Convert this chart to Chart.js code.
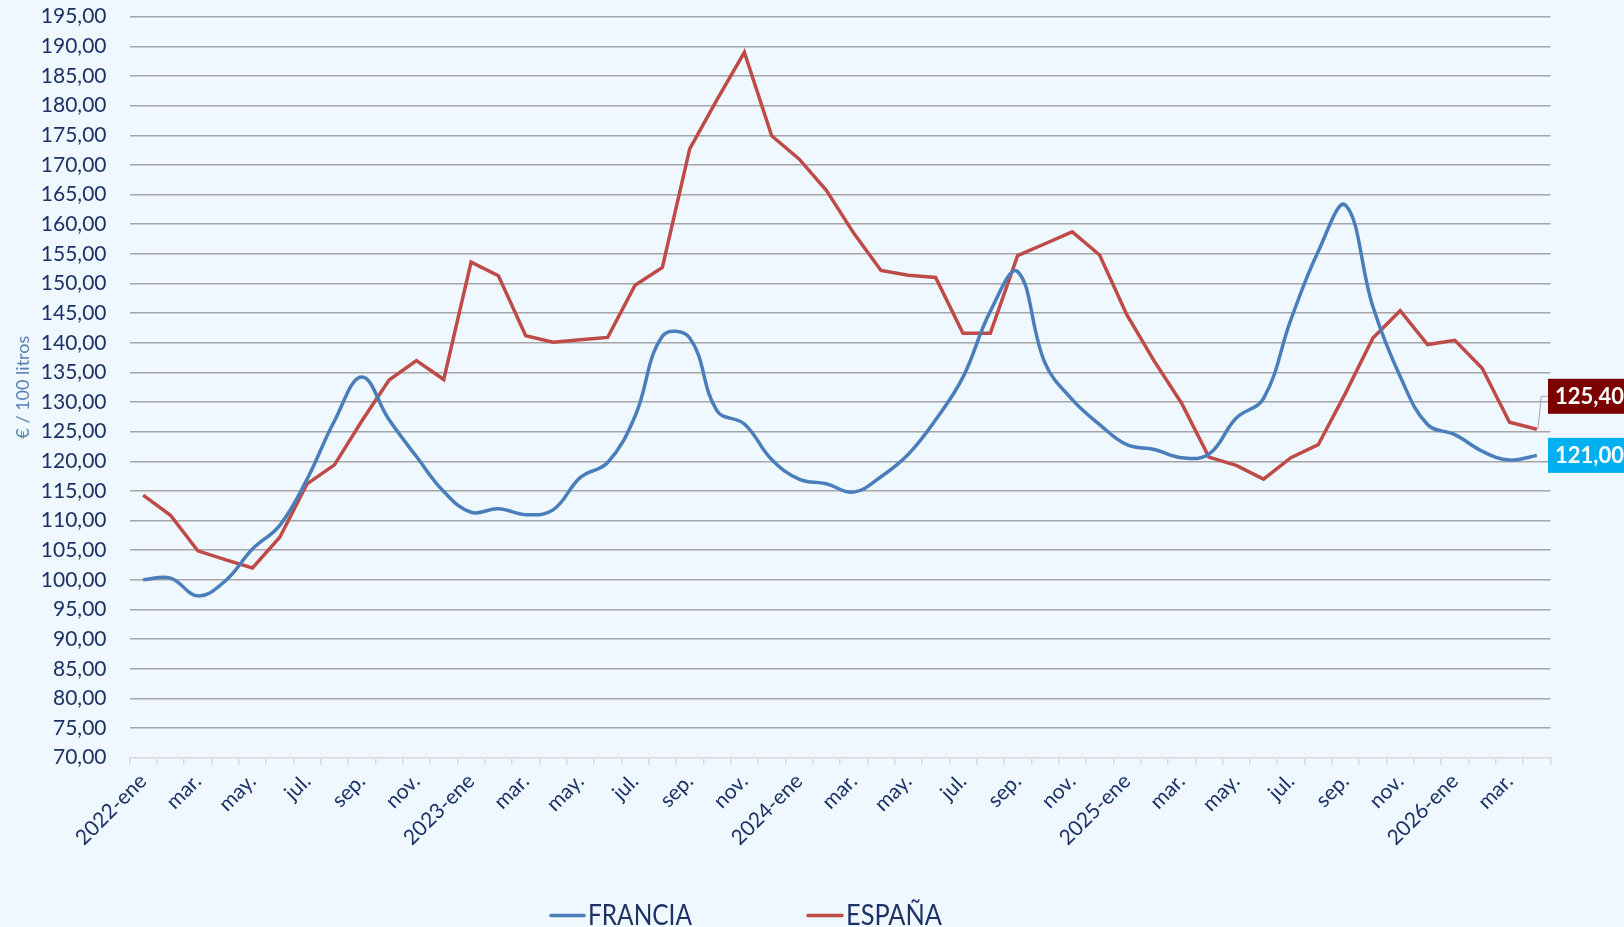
<!DOCTYPE html>
<html>
<head>
<meta charset="utf-8">
<script src="https://cdn.jsdelivr.net/npm/chart.js@4.4.1/dist/chart.umd.min.js"></script>
<style>
  html, body { margin: 0; padding: 0; background: #EFF7FF; }
  #wrap { width: 1624px; height: 927px; }
</style>
</head>
<body>
<div id="wrap"><canvas id="c" width="1624" height="927"></canvas></div>
<script>
// ---- Data ----
const months = [
  "2022-ene","feb.","mar.","abr.","may.","jun.","jul.","ago.","sep.","oct.","nov.","dic.",
  "2023-ene","feb.","mar.","abr.","may.","jun.","jul.","ago.","sep.","oct.","nov.","dic.",
  "2024-ene","feb.","mar.","abr.","may.","jun.","jul.","ago.","sep.","oct.","nov.","dic.",
  "2025-ene","feb.","mar.","abr.","may.","jun.","jul.","ago.","sep.","oct.","nov.","dic.",
  "2026-ene","feb.","mar.","abr."
];
const francia = [100.0, 100.3, 97.3, 99.8, 105.2, 109.2, 117.0, 126.8, 134.2, 127.0, 120.8, 114.9,
  111.4, 112.0, 111.0, 111.8, 117.3, 119.8, 127.6, 141.1, 140.8, 128.5, 126.3, 120.3,
  117.0, 116.2, 114.8, 117.4, 121.2, 127.0, 134.2, 145.3, 152.0, 136.6, 130.4, 126.2,
  122.8, 122.0, 120.6, 121.2, 127.3, 130.6, 143.9, 155.4, 163.2, 146.1, 134.3, 126.2,
  124.5, 121.7, 120.2, 121.0];
const espana = [114.3, 110.9, 104.9, 103.4, 102.0, 107.2, 116.2, 119.4, 126.8, 133.7, 137.0, 133.8,
  153.6, 151.3, 141.2, 140.1, 140.5, 140.9, 149.7, 152.7, 172.7, 181.0, 189.0, 174.9,
  171.0, 165.7, 158.5, 152.2, 151.4, 151.0, 141.6, 141.6, 154.7, 156.7, 158.7, 154.8,
  144.7, 136.9, 129.8, 120.7, 119.3, 117.0, 120.6, 122.8, 131.5, 140.8, 145.4, 139.7,
  140.4, 135.7, 126.6, 125.4];
const seriesNames = ["FRANCIA", "ESPAÑA"];
const yMin = 70, yMax = 195, yStep = 5;
const yTitle = "€ / 100 litros";

// ---- Styles ----
const BG = "#EFF7FF";
const BLUE = "#4A7EBB";
const RED = "#BE4B48";
const NAVY = "#1C3266";
const FONT = "Lato, 'Open Sans', sans-serif";

const fmt = v => v.toFixed(2).replace(".", ",");

const bgPlugin = {
  id: "bg",
  beforeDraw(chart) {
    const ctx = chart.ctx;
    ctx.save();
    ctx.fillStyle = BG;
    ctx.fillRect(0, 0, chart.width, chart.height);
    ctx.restore();
  }
};

const extrasPlugin = {
  id: "extras",
  afterDraw(chart) {
    const ctx = chart.ctx;
    ctx.save();
    // End value labels
    const specs = [
      { ds: 1, fill: "#7B0000", dy: -33 },
      { ds: 0, fill: "#00B0F0", dy: 0 }
    ];
    specs.forEach(s => {
      const meta = chart.getDatasetMeta(s.ds);
      const pt = meta.data[meta.data.length - 1];
      const val = chart.data.datasets[s.ds].data[meta.data.length - 1];
      const cy = pt.y + s.dy;
      const bx = 1548, bh = 35;
      if (s.dy !== 0) {
        ctx.strokeStyle = "#A6A6A6";
        ctx.lineWidth = 1;
        ctx.beginPath();
        ctx.moveTo(pt.x + 1, pt.y);
        ctx.lineTo(pt.x + 4.5, cy);
        ctx.lineTo(bx, cy);
        ctx.stroke();
      }
      ctx.fillStyle = s.fill;
      ctx.fillRect(bx, cy - bh / 2, 120, bh);
      ctx.fillStyle = "#FFFFFF";
      ctx.font = "bold 22px " + FONT;
      ctx.textBaseline = "middle";
      ctx.textAlign = "left";
      ctx.fillText(fmt(val), 1555, cy + 1);
    });
    // Legend
    const items = [
      { name: seriesNames[0], color: BLUE, x0: 551, x1: 584, tx: 588, tw: 104 },
      { name: seriesNames[1], color: RED, x0: 808, x1: 842, tx: 846, tw: 96 }
    ];
    items.forEach(it => {
      ctx.strokeStyle = it.color;
      ctx.lineWidth = 3.5;
      ctx.lineCap = "round";
      ctx.beginPath();
      ctx.moveTo(it.x0, 915.5);
      ctx.lineTo(it.x1, 915.5);
      ctx.stroke();
      ctx.font = "28px " + FONT;
      const w = ctx.measureText(it.name).width;
      ctx.save();
      ctx.translate(it.tx, 925);
      ctx.scale(it.tw / w, 1);
      ctx.fillStyle = NAVY;
      ctx.textBaseline = "alphabetic";
      ctx.textAlign = "left";
      ctx.fillText(it.name, 0, 0);
      ctx.restore();
    });
    ctx.restore();
  }
};

new Chart(document.getElementById("c"), {
  type: "line",
  data: {
    labels: months,
    datasets: [
      { label: seriesNames[0], data: francia, borderColor: BLUE, backgroundColor: BLUE,
        borderWidth: 3.5, pointRadius: 0, tension: 0.4, fill: false },
      { label: seriesNames[1], data: espana, borderColor: RED, backgroundColor: RED,
        borderWidth: 3.5, pointRadius: 0, tension: 0, fill: false }
    ]
  },
  options: {
    responsive: false,
    animation: false,
    devicePixelRatio: 1,
    layout: { padding: { top: 16.7, right: 73.5, left: 0, bottom: 0 } },
    plugins: { legend: { display: false }, tooltip: { enabled: false } },
    scales: {
      x: {
        type: "category",
        offset: true,
        grid: { offset: true, drawOnChartArea: false, drawTicks: true, tickLength: 7,
                color: "#D9D9D9", lineWidth: 1.5 },
        border: { display: true, color: "#D9D9D9", width: 1.5 },
        ticks: {
          autoSkip: false, maxRotation: 45, minRotation: 45, padding: 4,
          color: NAVY, font: { family: FONT, size: 21 },
          callback: function (v, i) { return i % 2 === 0 ? months[i] : ""; }
        },
        afterFit(scale) {
          scale.height = 927 - 757.7;
          scale.paddingTop = 0; scale.paddingBottom = 0;
          scale.paddingLeft = 0; scale.paddingRight = 0;
        }
      },
      y: {
        min: yMin, max: yMax,
        grid: {
          drawTicks: false, lineWidth: 1.5,
          color: c => (c.tick && c.tick.value === yMin) ? "rgba(0,0,0,0)" : "#A6A6A6"
        },
        border: { display: false },
        ticks: {
          stepSize: yStep, padding: 23, color: NAVY,
          font: { family: FONT, size: 21 },
          callback: v => fmt(v)
        },
        title: {
          display: true, text: yTitle, color: "#5B80B4",
          font: { family: FONT, size: 18 }, padding: { top: 12, bottom: 0 }
        },
        afterFit(scale) {
          scale.width = 129.5;
          scale.paddingTop = 0; scale.paddingBottom = 0;
        }
      }
    }
  },
  plugins: [bgPlugin, extrasPlugin]
});
</script>
</body>
</html>
